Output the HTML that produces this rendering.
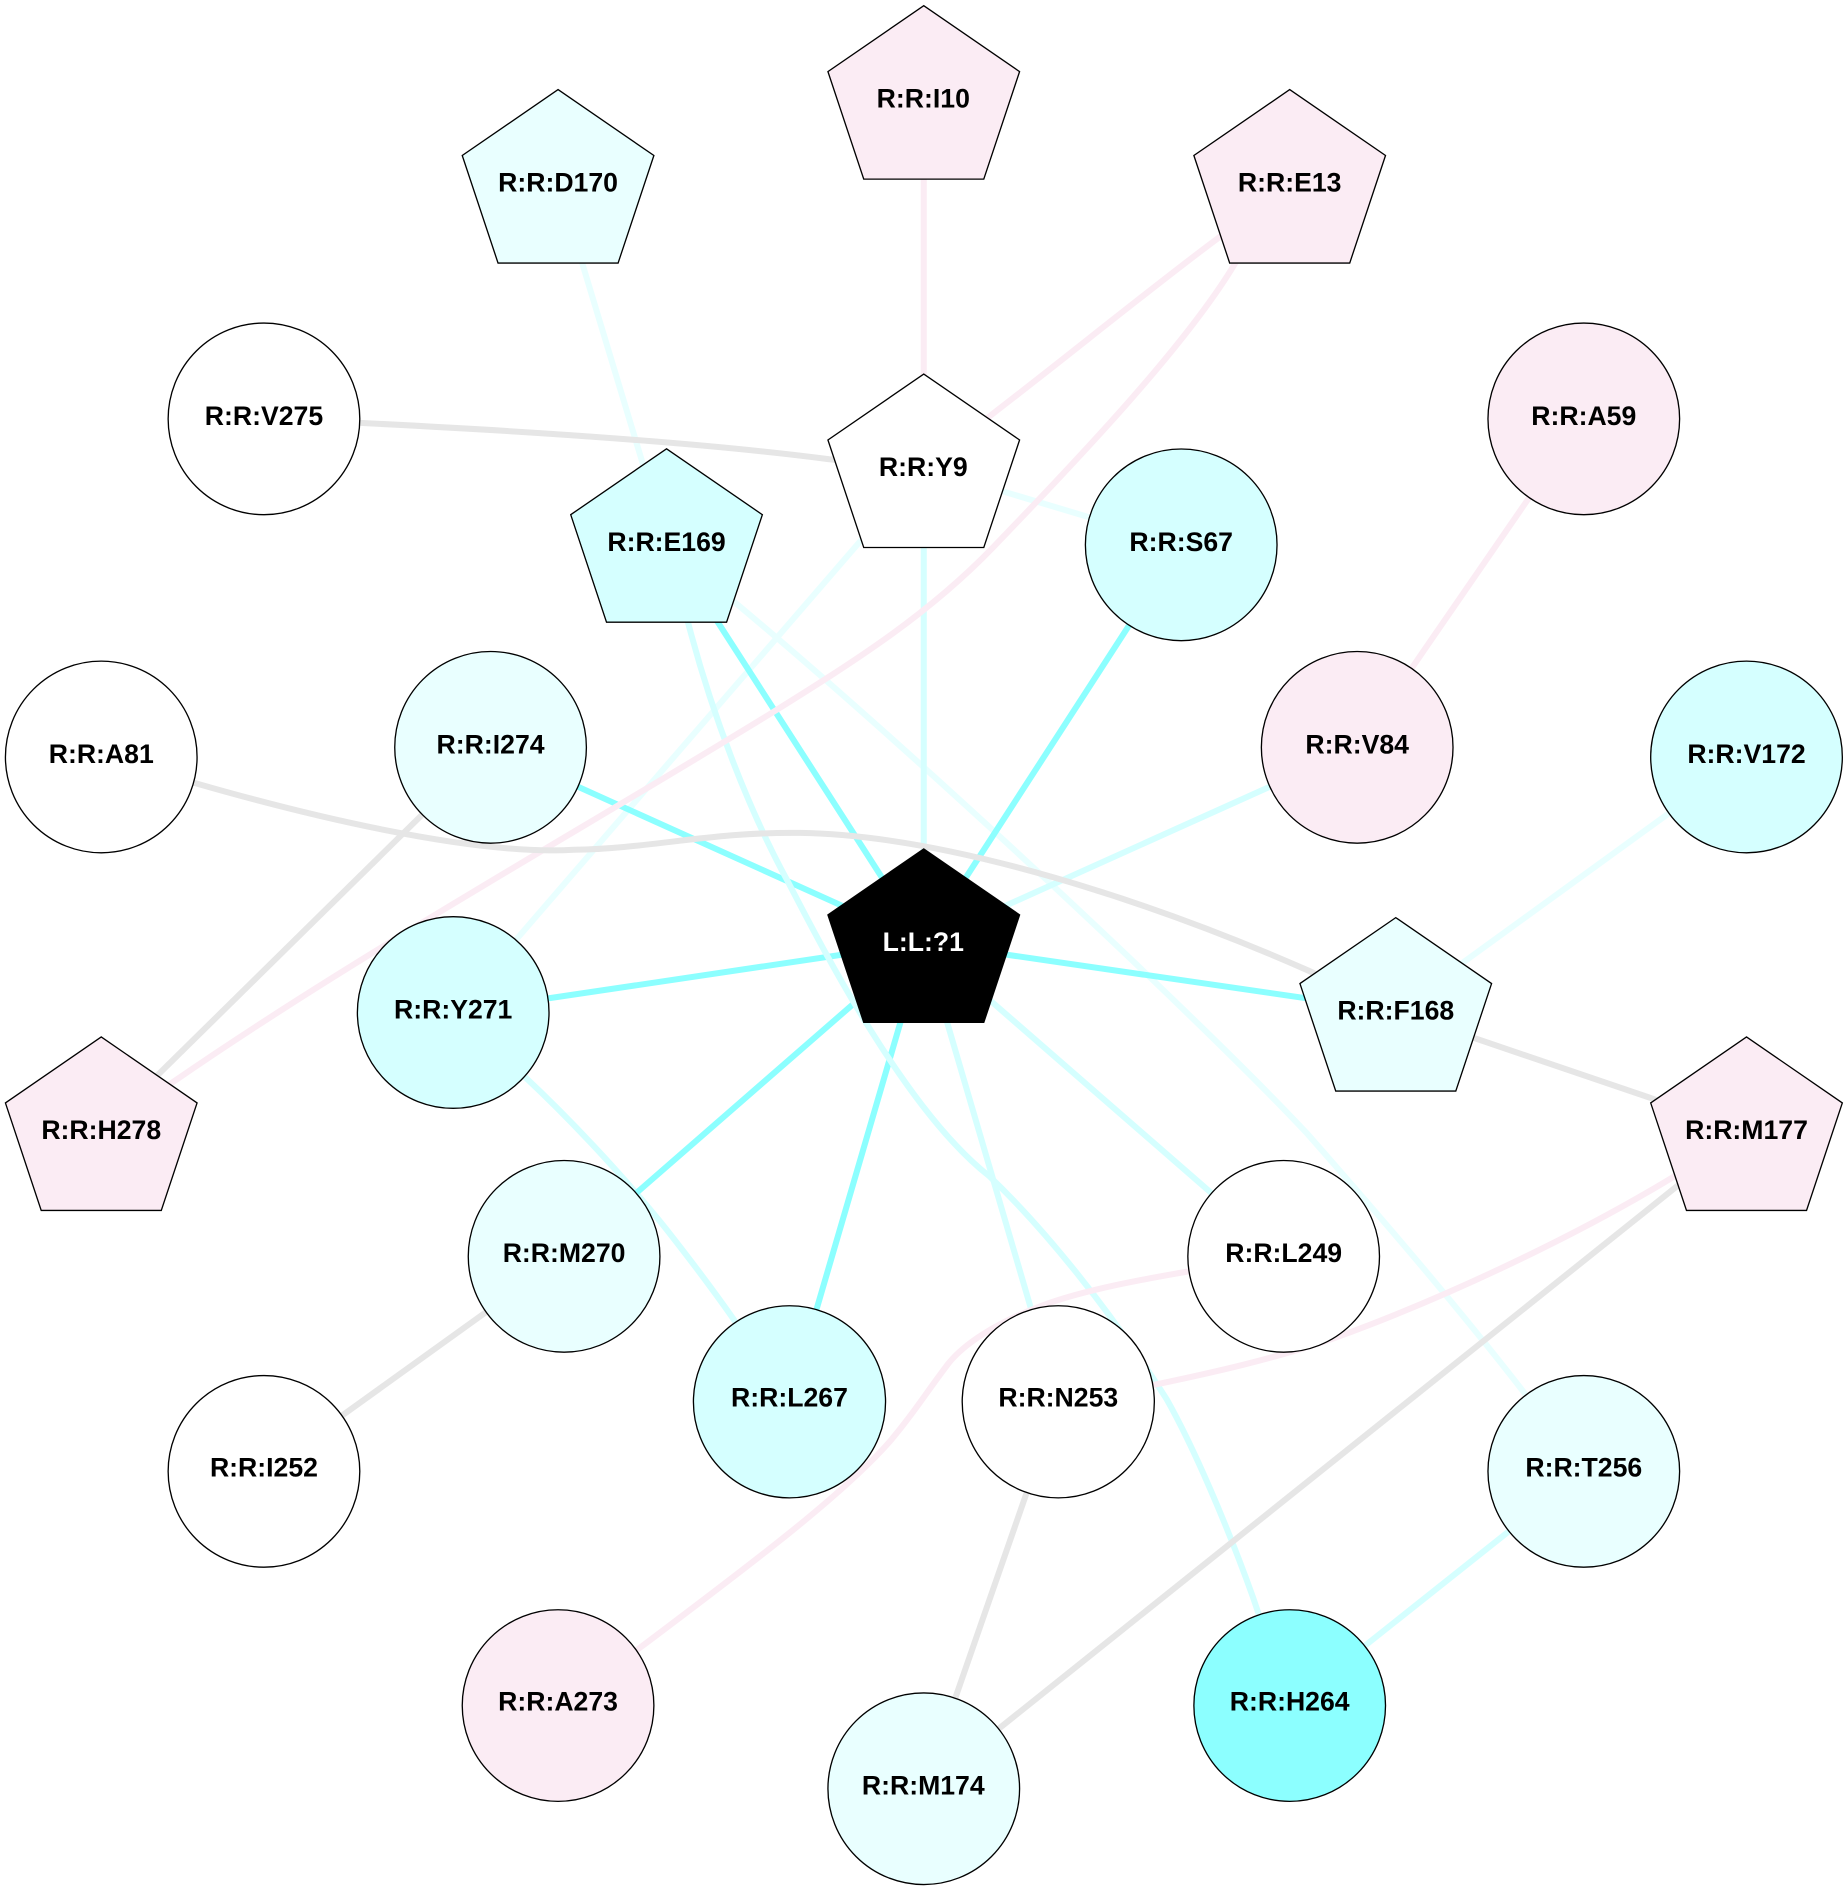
<!DOCTYPE html>
<html><head><meta charset="utf-8"><title>Network</title>
<style>
html,body{margin:0;padding:0;background:#fff}
svg{display:block}
text{font-family:"Liberation Sans",Arial,sans-serif;font-weight:bold;font-size:22.1px;text-anchor:middle;fill:#000}
.e{fill:none;stroke-width:5}
.s{stroke:#8cffff}.l{stroke:#d5ffff}.x{stroke:#e9ffff}.p{stroke:#fbecf4}.g{stroke:#e6e6e6}
.n{stroke:#000;stroke-width:1.1}
</style></head><body>
<svg width="1848" height="1890" viewBox="0 0 1533.2 1568" xmlns="http://www.w3.org/2000/svg">
<defs>
<polygon id="pen" points="0,-77.7 79.5,-23 49.8,66.2 -49.8,66.2 -79.5,-23"/>
</defs>
<rect width="1533.2" height="1568" fill="#fff"/>
<g class="edges">
<path class="e x" d="M553,450L610,500C760,625 1000,850 1085,941C1150,1015 1210,1085 1265,1156L1314,1221"/>
<path class="e x" d="M766.4,388L376,840"/>
<path class="e x" d="M463,152L553,450"/>
<path class="e x" d="M1158,839L1449,628"/>
<path class="e x" d="M766.4,388L980,452"/>
<path class="e l" d="M766.4,388L766.4,782"/>
<path class="e l" d="M766.4,782L1126,620"/>
<path class="e l" d="M766.4,782L1065,1042"/>
<path class="e l" d="M766.4,782L878,1163"/>
<path class="e l" d="M1070,1415L1314,1221"/>
<path class="e l" d="M376,840L435,893C480,935 525,985 553,1020C575,1048 595,1075 609,1095L655,1163"/>
<path class="e s" d="M766.4,782L553,450"/>
<path class="e s" d="M766.4,782L980,452"/>
<path class="e s" d="M766.4,782L407,620"/>
<path class="e s" d="M766.4,782L376,840"/>
<path class="e s" d="M766.4,782L1158,839"/>
<path class="e s" d="M766.4,782L468,1042"/>
<path class="e s" d="M766.4,782L655,1163"/>
<path class="e l" d="M553,450L571,517C590,590 620,670 654,732C684,790 752,922 821,976C865,1018 920,1085 968,1161C990,1200 1018,1265 1039.5,1325L1070,1415"/>
<path class="e p" d="M766.4,82L766.4,388"/>
<path class="e p" d="M766.4,388L824,343C880,300 960,235 1010,198L1070,152"/>
<path class="e p" d="M1070,152L1025,218C985,285 900,375 824,454C770,510 710,548 641,591C480,690 300,790 146,896L84,938"/>
<path class="e p" d="M1314,347L1126,620"/>
<path class="e p" d="M1449,938L1389,976C1300,1030 1190,1080 1110,1109C1060,1127 1000,1140 957,1149L878,1163"/>
<path class="e p" d="M1065,1042L985,1055C950,1061 900,1070 865,1083C825,1098 800,1115 787,1131C765,1160 760,1170 739,1195C700,1240 620,1300 531,1367L463,1415"/>
<path class="e g" d="M219,347C350,353 550,363 688,381L766.4,388"/>
<path class="e g" d="M84,628L163,650C250,675 390,710 476,705C540,704 590,690 664,691C790,693 960,750 1085,805L1158,839"/>
<path class="e g" d="M407,620L84,938"/>
<path class="e g" d="M468,1042L219,1221"/>
<path class="e g" d="M1158,839L1449,938"/>
<path class="e g" d="M1449,938L766.4,1484"/>
<path class="e g" d="M878,1163L766.4,1484"/>
</g>
<g class="n">
<circle cx="219" cy="347.5" r="79.5" fill="#fff"/>
<circle cx="1314" cy="347.5" r="79.5" fill="#fbecf4"/>
<circle cx="980" cy="452" r="79.5" fill="#d5ffff"/>
<circle cx="407" cy="620" r="79.5" fill="#e9ffff"/>
<circle cx="1126" cy="620" r="79.5" fill="#fbecf4"/>
<circle cx="84" cy="628" r="79.5" fill="#fff"/>
<circle cx="1449" cy="628" r="79.5" fill="#d5ffff"/>
<circle cx="376" cy="840" r="79.5" fill="#d5ffff"/>
<circle cx="468" cy="1042.3" r="79.5" fill="#e9ffff"/>
<circle cx="1065" cy="1042.3" r="79.5" fill="#fff"/>
<circle cx="655" cy="1163" r="79.7" fill="#d5ffff"/>
<circle cx="878" cy="1163" r="79.7" fill="#fff"/>
<circle cx="219" cy="1220.7" r="79.5" fill="#fff"/>
<circle cx="1314" cy="1220.7" r="79.5" fill="#e9ffff"/>
<circle cx="463" cy="1415" r="79.5" fill="#fbecf4"/>
<circle cx="1070" cy="1415" r="79.5" fill="#8cffff"/>
<circle cx="766.4" cy="1484" r="79.5" fill="#e9ffff"/>
<use href="#pen" x="766.4" y="82.4" fill="#fbecf4"/>
<use href="#pen" x="463" y="152" fill="#e9ffff"/>
<use href="#pen" x="1070" y="152" fill="#fbecf4"/>
<use href="#pen" x="766.4" y="388" fill="#fff"/>
<use href="#pen" x="553" y="450" fill="#d5ffff"/>
<use href="#pen" x="766.4" y="782" fill="#000"/>
<use href="#pen" x="1158" y="839" fill="#e9ffff"/>
<use href="#pen" x="84" y="938" fill="#fbecf4"/>
<use href="#pen" x="1449" y="938" fill="#fbecf4"/>
</g>
<g>
<text x="219" y="352.5">R:R:V275</text>
<text x="1314" y="352.5">R:R:A59</text>
<text x="980" y="457">R:R:S67</text>
<text x="407" y="625">R:R:I274</text>
<text x="1126" y="625">R:R:V84</text>
<text x="84" y="633">R:R:A81</text>
<text x="1449" y="633">R:R:V172</text>
<text x="376" y="845">R:R:Y271</text>
<text x="468" y="1047">R:R:M270</text>
<text x="1065" y="1047">R:R:L249</text>
<text x="655" y="1167">R:R:L267</text>
<text x="878" y="1167">R:R:N253</text>
<text x="219" y="1225">R:R:I252</text>
<text x="1314" y="1225">R:R:T256</text>
<text x="463" y="1419">R:R:A273</text>
<text x="1070" y="1419">R:R:H264</text>
<text x="766" y="1489">R:R:M174</text>
<text x="766" y="89">R:R:I10</text>
<text x="463" y="159">R:R:D170</text>
<text x="1070" y="159">R:R:E13</text>
<text x="766" y="395">R:R:Y9</text>
<text x="553" y="457">R:R:E169</text>
<text x="766" y="789" style="fill:#fff">L:L:?1</text>
<text x="1158" y="846">R:R:F168</text>
<text x="84" y="945">R:R:H278</text>
<text x="1449" y="945">R:R:M177</text>
</g>
</svg>
</body></html>
